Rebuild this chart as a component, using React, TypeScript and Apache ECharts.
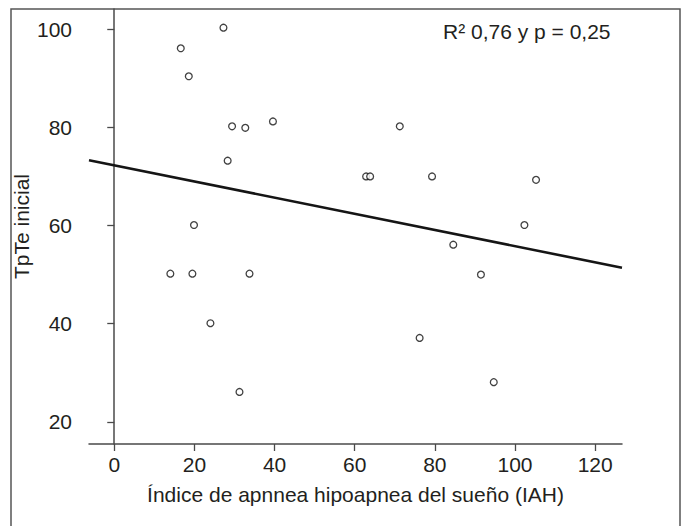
import React, { useEffect, useRef } from "react";
import * as echarts from "echarts";

const xTicks = [0, 20, 40, 60, 80, 100, 120];
const yTicks = [20, 40, 60, 80, 100];

const iah = [
  27.25, 16.6, 18.6, 29.4, 32.7, 39.6, 28.3, 19.9, 71.25, 62.85, 63.85, 79.3,
  105.25, 102.35, 84.6, 14.0, 19.5, 33.75, 24.0, 31.25, 91.5, 76.2, 94.7,
];
const tpte = [
  100.3, 96.1, 90.4, 80.2, 79.9, 81.2, 73.2, 60.1, 80.2, 70.0, 70.0, 70.0,
  69.3, 60.1, 56.1, 50.2, 50.2, 50.2, 40.1, 26.1, 50.0, 37.1, 28.1,
];

const fitX = [-6.3, 126.7];
const fitY = [73.3, 51.4];

const xRange = [-6.3, 126.7];
const yRange = [15.5, 104.1];

const xTitle = "Índice de apnnea hipoapnea del sueño (IAH)";
const yTitle = "TpTe inicial";
const statText = "R² 0,76 y p = 0,25";

const FONT = "'Liberation Sans', Arial, Helvetica, sans-serif";
const TXT = "#231f20";
const AX = "#4a4a4a";

export default function App() {
  const ref = useRef<HTMLDivElement>(null);
  useEffect(() => {
    if (!ref.current) return;
    const chart = echarts.init(ref.current, undefined, { renderer: "svg" });
    const axisCommon = {
      type: "value" as const,
      splitLine: { show: false },
      axisLine: { show: true, lineStyle: { color: AX, width: 1.5 } },
      axisTick: { show: true, length: 7, lineStyle: { color: AX, width: 1.3 } },
      nameLocation: "middle" as const,
      nameMoveOverlap: false,
      nameTextStyle: { fontFamily: FONT, fontSize: 21, color: TXT },
    };
    chart.setOption({
      animation: false,
      backgroundColor: "#ffffff",
      grid: {
        left: 89,
        top: 9,
        width: 533,
        height: 435,
        containLabel: false,
        outerBoundsMode: "none",
      },
      xAxis: {
        ...axisCommon,
        min: xRange[0],
        max: xRange[1],
        name: xTitle,
        nameGap: 40,
        axisTick: { ...axisCommon.axisTick, customValues: xTicks },
        axisLabel: {
          customValues: xTicks,
          margin: 10,
          fontFamily: FONT,
          fontSize: 21,
          color: TXT,
        },
      },
      yAxis: {
        ...axisCommon,
        min: yRange[0],
        max: yRange[1],
        name: yTitle,
        nameGap: 57,
        nameRotate: 90,
        axisTick: { ...axisCommon.axisTick, customValues: yTicks },
        axisLabel: {
          customValues: yTicks,
          margin: 17,
          fontFamily: FONT,
          fontSize: 21,
          color: TXT,
        },
      },
      graphic: [
        {
          type: "rect",
          shape: { x: 11, y: 9, width: 669, height: 600 },
          style: { fill: "none", stroke: "#555", lineWidth: 1.5 },
          silent: true,
        },
        {
          type: "text",
          x: 443,
          y: 31,
          style: {
            text: statText,
            font: `21px ${FONT}`,
            fill: TXT,
            verticalAlign: "middle",
            align: "left",
          },
        },
      ],
      series: [
        {
          type: "line",
          data: fitX.map((x, i) => [x, fitY[i]]),
          symbol: "none",
          lineStyle: { color: "#151515", width: 2.6 },
          z: 2,
        },
        {
          type: "scatter",
          data: iah.map((x, i) => [x, tpte[i]]),
          symbol: "circle",
          symbolSize: 6.8,
          itemStyle: { color: "#ffffff", borderColor: "#111", borderWidth: 1.3 },
          z: 3,
        },
      ],
    });
    return () => chart.dispose();
  }, []);
  return (
    <div
      ref={ref}
      style={{ position: "fixed", left: 0, top: 0, width: 686, height: 526 }}
    />
  );
}
